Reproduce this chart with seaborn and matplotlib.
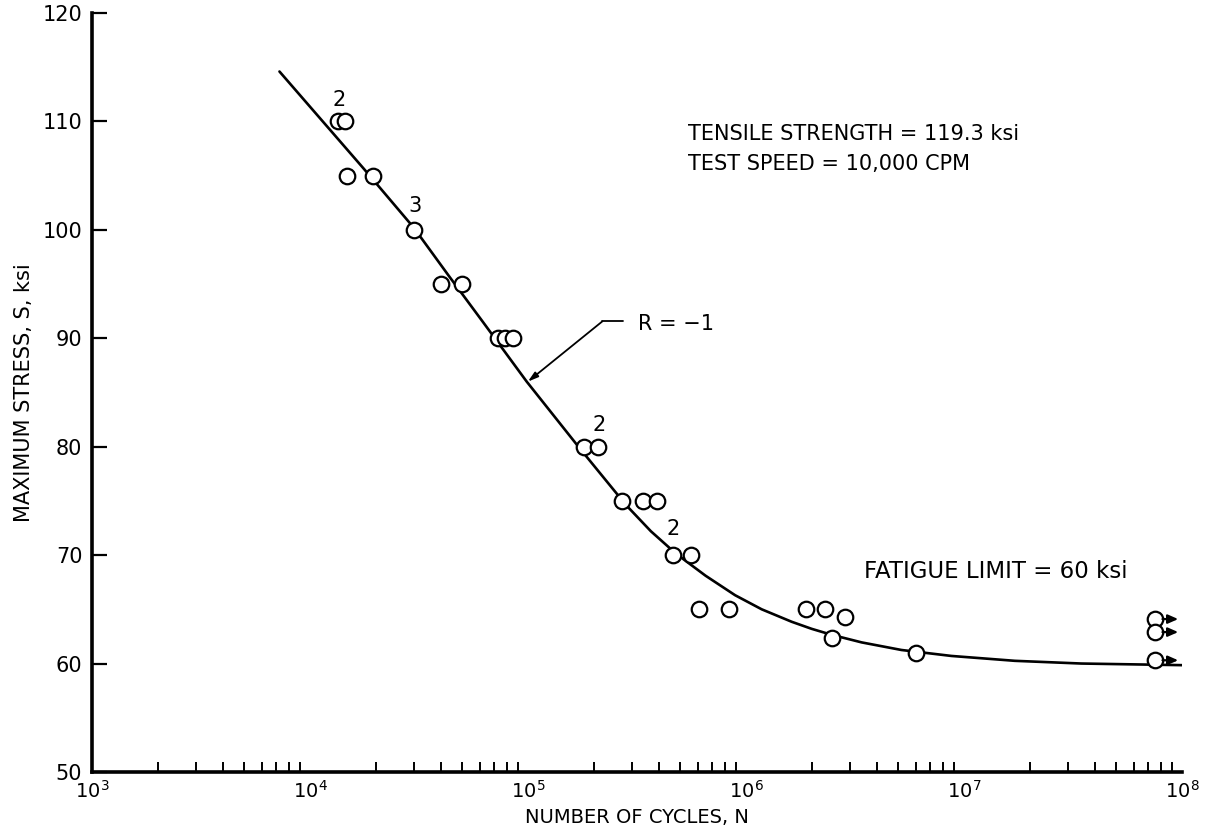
import numpy as np
import pandas as pd
import matplotlib
matplotlib.use("Agg")
import matplotlib.pyplot as plt
import seaborn as sns
from matplotlib.ticker import LogLocator, LogFormatterMathtext, FixedLocator, NullFormatter

# ---- test data: failures ----
cycles = [1.34e4, 1.45e4, 1.48e4, 1.95e4, 2.99e4, 3.99e4, 4.98e4,
          7.31e4, 7.87e4, 8.57e4, 1.81e5, 2.10e5, 2.71e5, 3.35e5,
          3.92e5, 4.61e5, 5.57e5, 6.08e5, 8.36e5, 1.89e6, 2.31e6,
          2.47e6, 2.84e6, 6.05e6]
stress = [110, 110, 105, 105, 100, 95, 95,
          90, 90, 90, 80, 80, 75, 75,
          75, 70, 70, 65, 65, 65, 65,
          62.4, 64.3, 61.0]

# ---- run-outs (no failure) ----
runout_cycles = [7.5e7, 7.5e7, 7.5e7]
runout_stress = [64.1, 62.9, 60.3]

# ---- best-fit S-N curve, R = -1 ----
curve_cycles = [7.24e3, 1.77e4, 2.99e4, 4.35e4, 6.21e4, 9.86e4, 1.71e5,
                2.82e5, 3.66e5, 4.76e5, 6.52e5, 8.91e5, 1.18e6, 1.62e6,
                2.00e6, 2.47e6, 3.39e6, 5.16e6, 8.75e6, 1.71e7, 3.45e7,
                1.0e8]
curve_stress = [114.6, 105.6, 100.2, 95.7, 91.5, 86.0, 79.95,
                74.6, 72.2, 70.15, 68.1, 66.3, 65.0, 63.85,
                63.2, 62.65, 61.95, 61.25, 60.7, 60.25, 60.0,
                59.85]

# ---- specimen counts at coincident points ----
count_labels = ["2", "3", "2", "2"]
count_cycles = [1.36e4, 3.03e4, 2.12e5, 4.62e5]
count_stress = [112.0, 102.2, 82.0, 72.4]

x_ticks = [1e3, 1e4, 1e5, 1e6, 1e7, 1e8]
y_ticks = [50, 60, 70, 80, 90, 100, 110, 120]

sns.set_theme(style="white")
plt.rcParams["font.family"] = ["DejaVu Sans"]
plt.rcParams["mathtext.fontset"] = "dejavusans"

fig = plt.figure(figsize=(12.11, 8.36), dpi=100)
ax = fig.add_axes([0.0760, 0.0766, 0.9001, 0.9079])

failures = pd.DataFrame({"N": cycles, "S": stress})
runouts = pd.DataFrame({"N": runout_cycles, "S": runout_stress})
curve = pd.DataFrame({"N": curve_cycles, "S": curve_stress})

sns.lineplot(data=curve, x="N", y="S", ax=ax, color="black", linewidth=1.9,
             sort=False, estimator=None, zorder=2)
sns.scatterplot(data=failures, x="N", y="S", ax=ax, marker="o", s=125,
                facecolor="white", edgecolor="black", linewidth=1.6, zorder=3)
sns.scatterplot(data=runouts, x="N", y="S", ax=ax, marker="o", s=125,
                facecolor="white", edgecolor="black", linewidth=1.6, zorder=3)

# run-out arrows
for n, s in zip(runout_cycles, runout_stress):
    ax.annotate("", xy=(9.6e7, s), xytext=(n, s),
                arrowprops=dict(arrowstyle="-|>,head_length=0.5,head_width=0.22",
                                color="black", lw=1.6, shrinkA=5.5, shrinkB=0),
                zorder=4)

for lab, n, s in zip(count_labels, count_cycles, count_stress):
    ax.text(n, s, lab, ha="center", va="center", fontsize=15, color="black")

ax.set_xscale("log")
ax.set_xlim(1e3, 1e8)
ax.set_ylim(50, 120)

ax.xaxis.set_major_locator(FixedLocator(x_ticks))
ax.xaxis.set_major_formatter(LogFormatterMathtext())
ax.xaxis.set_minor_locator(LogLocator(base=10, subs=np.arange(2, 10), numticks=20))
ax.xaxis.set_minor_formatter(NullFormatter())
ax.set_yticks(y_ticks)

ax.tick_params(axis="x", which="major", direction="in", length=14, width=1.6,
               labelsize=14, pad=6, color="black", labelcolor="black")
ax.tick_params(axis="x", which="minor", direction="in", length=7, width=1.4,
               color="black", bottom=True)
ax.tick_params(axis="y", which="major", direction="in", length=11, width=1.6,
               labelsize=15, pad=7, color="black", labelcolor="black", left=True)

for side in ("top", "right"):
    ax.spines[side].set_visible(False)
for side in ("left", "bottom"):
    ax.spines[side].set_linewidth(2.6)
    ax.spines[side].set_color("black")

ax.set_xlabel("NUMBER OF CYCLES, N", fontsize=14, color="black", labelpad=4)
ax.set_ylabel("MAXIMUM STRESS, S, ksi", fontsize=15, color="black", labelpad=6)

# annotations
ax.text(5.41e5, 108.8, "TENSILE STRENGTH = 119.3 ksi", fontsize=15,
        ha="left", va="center", color="black")
ax.text(5.41e5, 106.1, "TEST SPEED = 10,000 CPM", fontsize=15,
        ha="left", va="center", color="black")
ax.text(3.49e6, 68.5, "FATIGUE LIMIT = 60 ksi", fontsize=16.5,
        ha="left", va="center", color="black")

ax.text(3.2e5, 91.35, "R = \u22121", fontsize=15, ha="left", va="center",
        color="black")
ax.plot([2.74e5, 2.19e5], [91.55, 91.55], color="black", lw=1.3)
ax.annotate("", xy=(9.98e4, 86.0), xytext=(2.19e5, 91.55),
            arrowprops=dict(arrowstyle="-|>,head_length=0.5,head_width=0.15",
                            color="black", lw=1.3, shrinkA=0, shrinkB=0))

fig.savefig("out.png", dpi=100, facecolor="white")
